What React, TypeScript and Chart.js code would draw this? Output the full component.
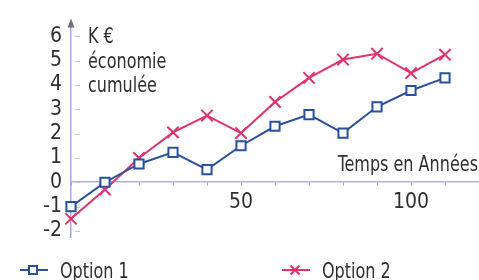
import React, { useEffect, useRef } from 'react';
import { Chart, registerables } from 'chart.js';

Chart.register(...registerables);

const years = [0, 10, 20, 30, 40, 50, 60, 70, 80, 90, 100, 110];
const option1 = [-1.0, 0.0, 0.75, 1.23, 0.52, 1.5, 2.3, 2.78, 2.02, 3.1, 3.77, 4.29];
const option2 = [-1.5, -0.3, 1.0, 2.05, 2.74, 2.02, 3.3, 4.29, 5.04, 5.28, 4.48, 5.24];
const seriesNames = ['Option 1', 'Option 2'];
const yTickValues = [-2, -1, 0, 1, 2, 3, 4, 5, 6];
const xLabelValues = [50, 100];
const yTitleLines = ['K €', 'économie', 'cumulée'];
const xTitle = 'Temps en Années';

const BLUE = '#2b4f9f';
const RED = '#e0336a';
const TEXT = '#2e2e33';
const FONT = "'DejaVu Sans Condensed', 'DejaVu Sans', sans-serif";
const SQUEEZE = 0.81;

function squeezedText(ctx: CanvasRenderingContext2D, text: string, x: number, y: number, align: 'left' | 'right') {
  ctx.save();
  ctx.translate(x, y);
  ctx.scale(SQUEEZE, 1);
  ctx.textAlign = align;
  ctx.textBaseline = 'alphabetic';
  ctx.fillText(text, 0, 0);
  ctx.restore();
}

const deco = {
  id: 'deco',
  beforeDatasetsDraw(chart: any) {
    const { ctx, chartArea, scales } = chart;
    const x = scales.x;
    const y = scales.y;
    const x0 = x.getPixelForValue(0);
    ctx.save();
    // y tick dashes inside plot
    ctx.strokeStyle = '#c4c4cc';
    ctx.lineWidth = 1;
    for (const v of yTickValues) {
      const py = Math.round(y.getPixelForValue(v)) + 0.5;
      ctx.beginPath();
      ctx.moveTo(x0 + 4, py);
      ctx.lineTo(x0 + 9, py);
      ctx.stroke();
    }
    // arrow on y axis
    ctx.fillStyle = '#6e6e86';
    ctx.beginPath();
    ctx.moveTo(x0, chartArea.top - 3);
    ctx.lineTo(x0 - 3.5, chartArea.top + 6);
    ctx.lineTo(x0 + 3.5, chartArea.top + 6);
    ctx.closePath();
    ctx.fill();
    // y title
    ctx.fillStyle = TEXT;
    ctx.font = `22px ${FONT}`;
    yTitleLines.forEach((t, i) => {
      squeezedText(ctx, t, 88, y.getPixelForValue(6 - i) + 7, 'left');
    });
    // x title
    squeezedText(ctx, xTitle, 478, y.getPixelForValue(0) - 11, 'right');
    // legend
    const items = [
      { name: seriesNames[0], color: BLUE, x: 20, style: 'rect' },
      { name: seriesNames[1], color: RED, x: 282, style: 'cross' },
    ];
    const ly = 270;
    for (const it of items) {
      ctx.strokeStyle = it.color;
      ctx.lineWidth = 2;
      ctx.beginPath();
      ctx.moveTo(it.x, ly);
      ctx.lineTo(it.x + 28, ly);
      ctx.stroke();
      const cx = it.x + 13;
      if (it.style === 'rect') {
        ctx.fillStyle = '#ffffff';
        ctx.fillRect(cx - 4, ly - 4, 8, 8);
        ctx.strokeRect(cx - 4, ly - 4, 8, 8);
      } else {
        ctx.beginPath();
        ctx.moveTo(cx - 4.5, ly - 4.5);
        ctx.lineTo(cx + 4.5, ly + 4.5);
        ctx.moveTo(cx - 4.5, ly + 4.5);
        ctx.lineTo(cx + 4.5, ly - 4.5);
        ctx.stroke();
      }
      ctx.fillStyle = TEXT;
      ctx.font = `22px ${FONT}`;
      squeezedText(ctx, it.name, it.x + 40, 278, 'left');
    }
    ctx.restore();
  },
};

export default function App() {
  const ref = useRef<HTMLCanvasElement>(null);
  useEffect(() => {
    if (!ref.current) return;
    const chart = new Chart(ref.current, {
      type: 'line',
      data: {
        datasets: [
          {
            label: seriesNames[0],
            data: years.map((yr, i) => ({ x: yr, y: option1[i] })),
            borderColor: BLUE,
            backgroundColor: '#ffffff',
            borderWidth: 2,
            pointStyle: 'rect',
            pointRadius: 6.5,
            pointBorderWidth: 2,
            pointBorderColor: BLUE,
            pointBackgroundColor: '#ffffff',
            tension: 0,
            clip: false as any,
          },
          {
            label: seriesNames[1],
            data: years.map((yr, i) => ({ x: yr, y: option2[i] })),
            borderColor: RED,
            backgroundColor: RED,
            borderWidth: 2,
            pointStyle: 'crossRot',
            pointRadius: 8,
            pointBorderWidth: 2,
            pointBorderColor: RED,
            tension: 0,
            clip: false as any,
          },
        ],
      },
      options: {
        animation: false,
        responsive: false,
        layout: { autoPadding: false, padding: { left: 0, right: 0, top: 15, bottom: 43 } },
        plugins: { legend: { display: false }, tooltip: { enabled: false } },
        scales: {
          x: {
            type: 'linear',
            min: 0,
            max: 120,
            position: { y: 0 } as any,
            afterFit: (s: any) => {
              s.paddingRight = 0;
              s.paddingLeft = 0;
            },
            border: { display: true, color: '#b3b0dc', width: 1.5 },
            grid: { drawOnChartArea: false, drawTicks: true, tickLength: 3, color: '#a8a8b8' },
            ticks: {
              stepSize: 10,
              padding: 5,
              autoSkip: false,
              maxRotation: 0,
              color: TEXT,
              font: { family: FONT, size: 21 },
              callback: (v: any) => (xLabelValues.includes(Number(v)) ? String(v) : ''),
            },
          },
          y: {
            type: 'linear',
            min: -2.25,
            max: 6.6,
            afterFit: (s: any) => {
              s.width = 71;
            },
            border: { display: true, color: '#a3acd8', width: 1.5 },
            grid: { display: false, drawTicks: false },
            afterBuildTicks: (s: any) => {
              s.ticks = yTickValues.map((v) => ({ value: v }));
            },
            ticks: {
              autoSkip: false,
              padding: 9,
              color: TEXT,
              font: { family: FONT, size: 21 },
            },
          },
        },
      },
      plugins: [deco],
    });
    return () => chart.destroy();
  }, []);
  return (
    <div style={{ position: 'absolute', left: 0, top: 0, width: 479, height: 280 }}>
      <canvas ref={ref} width={479} height={280} />
    </div>
  );
}
